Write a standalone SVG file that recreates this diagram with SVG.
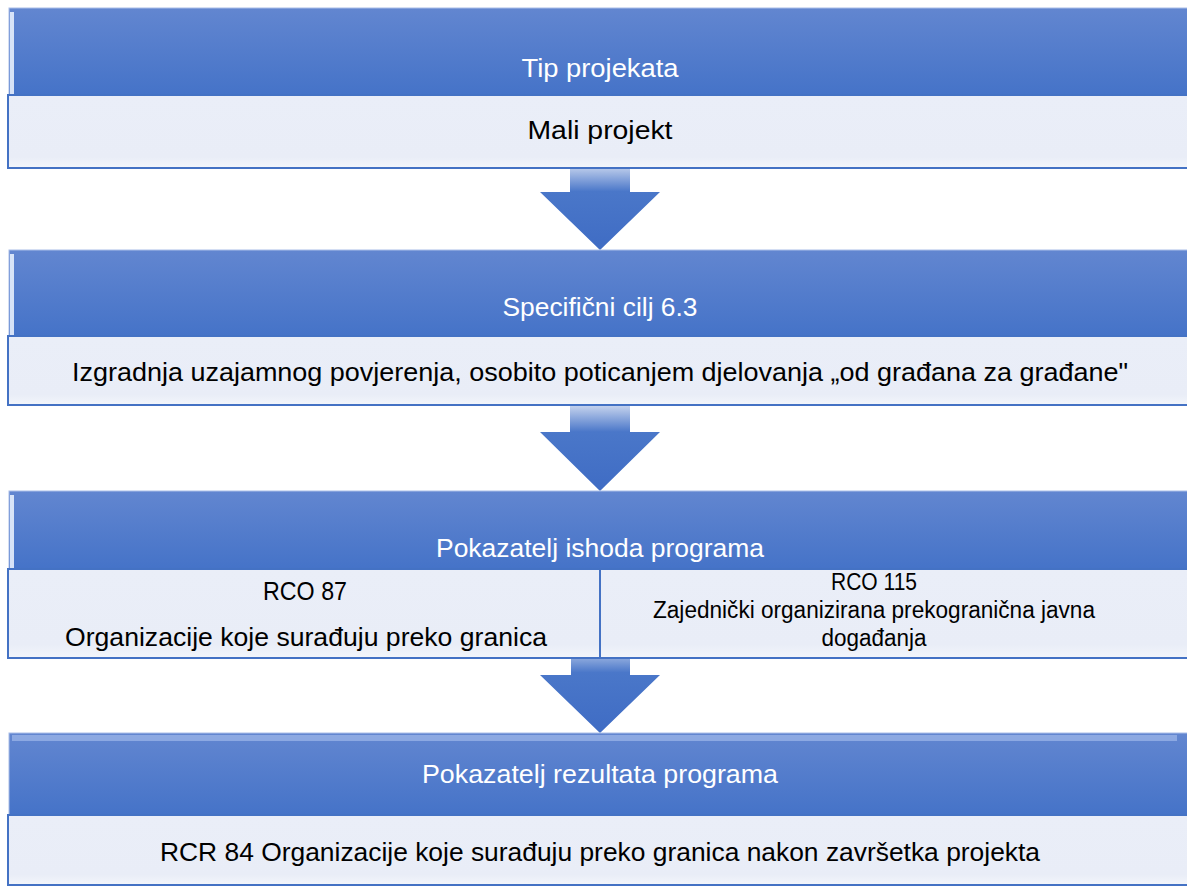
<svg xmlns="http://www.w3.org/2000/svg" width="1187" height="887" viewBox="0 0 1187 887">
<defs>
<linearGradient id="hdr" x1="0" y1="0" x2="0" y2="1">
<stop offset="0" stop-color="#6286d0"/>
<stop offset="1" stop-color="#4573c8"/>
</linearGradient>
<linearGradient id="arr" x1="0" y1="0" x2="0" y2="1">
<stop offset="0" stop-color="#dfe6f5"/>
<stop offset="0.35" stop-color="#4a77c9"/>
<stop offset="1" stop-color="#3f6cc4"/>
</linearGradient>
<linearGradient id="box" x1="0" y1="0" x2="0" y2="1">
<stop offset="0" stop-color="#eaeef8"/>
<stop offset="0.85" stop-color="#e9edf7"/>
<stop offset="1" stop-color="#f3f6fb"/>
</linearGradient>
<style>
.hdr{fill:url(#hdr);stroke:#a9bde8;stroke-width:1}
.box{fill:url(#box);stroke:#4472c4;stroke-width:2}
.bev{fill:#e6eefc;opacity:0.9}
.arrow{fill:url(#arr)}
.ht{font-family:"Liberation Sans",Arial,sans-serif;font-size:25px;fill:#ffffff;text-anchor:middle}
.bt{font-family:"Liberation Sans",Arial,sans-serif;font-size:25px;fill:#000000;text-anchor:middle}
.st{font-family:"Liberation Sans",Arial,sans-serif;font-size:23px;fill:#000000;text-anchor:middle}
</style>
</defs>

<g id="connectors">
<path class="arrow" d="M570 160 H630 V192 H660 L600 250 L540 192 H570 Z"/>
<path class="arrow" d="M570 400 H630 V432 H660 L600 491 L540 432 H570 Z"/>
<path class="arrow" d="M571 640 H630 V675 H660 L600 733 L540 675 H571 Z"/>
</g>

<g id="block1">
<rect class="hdr" x="9" y="8" width="1180" height="87"/>
<rect class="bev" x="10" y="12" width="4" height="82"/>
<rect class="box" x="8" y="95" width="1182" height="73"/>
<text class="ht" x="600" y="77" textLength="157" lengthAdjust="spacingAndGlyphs">Tip projekata</text>
<text class="bt" x="600" y="139" textLength="145" lengthAdjust="spacingAndGlyphs">Mali projekt</text>
</g>

<g id="block2">
<rect class="hdr" x="9" y="250" width="1180" height="86"/>
<rect class="bev" x="10" y="254" width="4" height="81"/>
<rect class="box" x="8" y="336" width="1182" height="69"/>
<text class="ht" x="600" y="316" textLength="195" lengthAdjust="spacingAndGlyphs">Specifični cilj 6.3</text>
<text class="bt" x="600" y="381" textLength="1056" lengthAdjust="spacingAndGlyphs">Izgradnja uzajamnog povjerenja, osobito poticanjem djelovanja „od građana za građane"</text>
</g>

<g id="block3">
<rect class="hdr" x="9" y="491" width="1180" height="78"/>
<rect class="bev" x="10" y="495" width="4" height="73"/>
<rect class="box" x="8" y="569" width="1182" height="89"/>
<line x1="600" y1="569" x2="600" y2="658" stroke="#4472c4" stroke-width="2"/>
<text class="ht" x="600" y="557" textLength="328" lengthAdjust="spacingAndGlyphs">Pokazatelj ishoda programa</text>
<text class="bt" x="305" y="600" textLength="84" lengthAdjust="spacingAndGlyphs">RCO 87</text>
<text class="bt" x="306" y="646" textLength="482" lengthAdjust="spacingAndGlyphs">Organizacije koje surađuju preko granica</text>
<text class="st" x="874" y="590" textLength="86" lengthAdjust="spacingAndGlyphs">RCO 115</text>
<text class="st" x="874" y="618" textLength="442" lengthAdjust="spacingAndGlyphs">Zajednički organizirana prekogranična javna</text>
<text class="st" x="874" y="646" textLength="105" lengthAdjust="spacingAndGlyphs">događanja</text>
</g>

<g id="block4">
<rect class="hdr" x="9" y="733" width="1180" height="82"/>
<rect x="12" y="735" width="1165" height="6" fill="#9fb8ea" opacity="0.7"/>
<rect class="box" x="8" y="815" width="1182" height="70"/>
<text class="ht" x="600" y="783" textLength="356" lengthAdjust="spacingAndGlyphs">Pokazatelj rezultata programa</text>
<text class="bt" x="600" y="861" textLength="880" lengthAdjust="spacingAndGlyphs">RCR 84 Organizacije koje surađuju preko granica nakon završetka projekta</text>
</g>
</svg>
